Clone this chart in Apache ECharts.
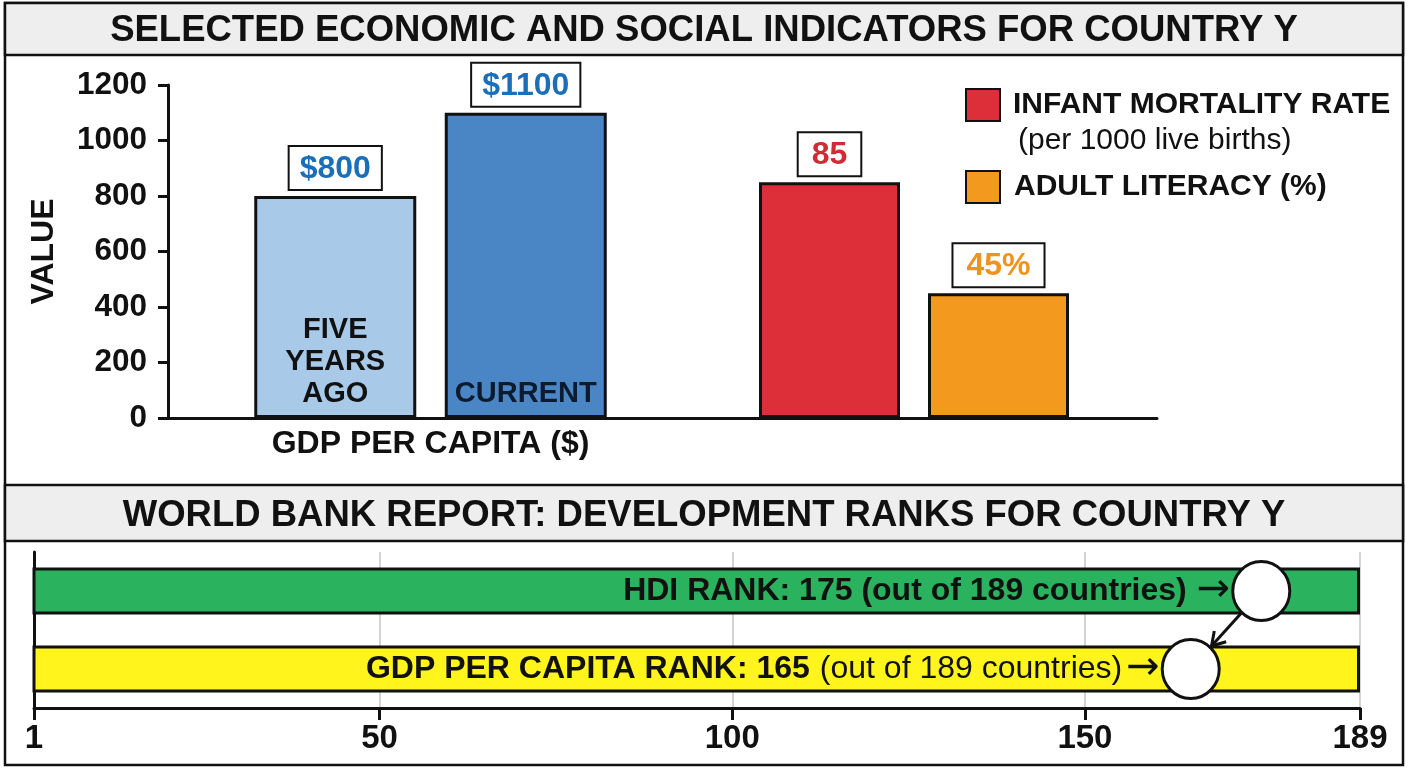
<!DOCTYPE html>
<html>
<head>
<meta charset="utf-8">
<title>Country Y indicators</title>
<script src="https://cdn.jsdelivr.net/npm/echarts@6.0.0/dist/echarts.min.js"></script>
<style>
  html, body { margin: 0; padding: 0; background: #fff; }
  #chart { width: 1408px; height: 768px; }
</style>
</head>
<body>
<div id="chart"></div>
<script>
// top panel
const gdpCategories = ['FIVE\nYEARS\nAGO', 'CURRENT'];
const gdpValues = [800, 1100];
const indicatorNames = ['INFANT MORTALITY RATE', 'ADULT LITERACY (%)'];
const indicatorValues = [85, 45];
const indicatorScale = 10; // drawn x10 so they share the value axis with GDP
const valueRange = [0, 1200];
const valueStep = 200;

// bottom panel
const rankRows = ['HDI', 'GDP PER CAPITA'];
const rankValues = [175, 165];
const rankTotal = 189;
const rankTicks = [1, 50, 100, 150, 189];

const FONT = "'Liberation Sans', Arial, sans-serif";
const ARROW_FONT = "'DejaVu Sans', sans-serif";
const INK = '#111';

const chart = echarts.init(document.getElementById('chart'));

function boldText(size, color) {
    return { fontFamily: FONT, fontSize: size, fontWeight: 'bold', color: color || INK };
}

function rankLabel(i) {
    const head = rankRows[i] + ' RANK: ' + rankValues[i];
    const tail = '(out of ' + rankTotal + ' countries)';
    if (i === 0) return '{b|' + head + ' ' + tail + '}{a|→}';
    return '{b|' + head + '}{r|' + tail + '}{a2|→}';
}

const boxLabel = {
    show: true,
    position: 'top',
    distance: 7,
    fontFamily: FONT,
    fontSize: 32,
    fontWeight: 'bold',
    backgroundColor: '#fff',
    borderColor: INK,
    borderWidth: 2,
    padding: [6, 10, 4, 10]
};

const indicatorColors = ['#dc2f3a', '#f39a1e'];
const indicatorLabelColors = ['#d12b36', '#f0921b'];

const option = {
    animation: false,
    backgroundColor: '#fff',
    title: [
        {
            text: 'SELECTED ECONOMIC AND SOCIAL INDICATORS FOR COUNTRY Y',
            left: 'center', top: 12, padding: 0,
            textStyle: boldText(36.5)
        },
        {
            text: 'WORLD BANK REPORT: DEVELOPMENT RANKS FOR COUNTRY Y',
            left: 'center', top: 497, padding: 0,
            textStyle: boldText(36.5)
        }
    ],
    legend: [
        {
            data: [indicatorNames[0]],
            left: 965, top: 88, padding: 0,
            icon: 'rect', itemWidth: 34, itemHeight: 32,
            selectedMode: false,
            formatter: function (name) {
                return '{b|' + name + '}\n{s|(per 1000 live births)}';
            },
            textStyle: {
                padding: [36, 0, 0, 8],
                rich: {
                    b: { fontFamily: FONT, fontSize: 30, fontWeight: 'bold', lineHeight: 36, color: INK },
                    s: { fontFamily: FONT, fontSize: 30, lineHeight: 36, color: INK, padding: [0, 0, 0, 5] }
                }
            }
        },
        {
            data: [indicatorNames[1]],
            left: 965, top: 170, padding: 0,
            icon: 'rect', itemWidth: 34, itemHeight: 32,
            selectedMode: false,
            textStyle: Object.assign(boldText(30), { padding: [0, 0, 0, 9] })
        }
    ],
    grid: [
        { left: 168, right: 251, top: 85, bottom: 350 },      // axis frame
        { left: 240, right: 787, top: 85, bottom: 350 },      // gdp bars
        { left: 745, right: 325, top: 85, bottom: 350 },      // indicator bars
        { left: 34, right: 48, top: 552, bottom: 60 }         // ranks
    ],
    xAxis: [
        {
            gridIndex: 0, type: 'value', min: 0, max: 1,
            axisLine: { show: true, onZero: false, lineStyle: { color: INK, width: 3 } },
            axisTick: { show: false }, axisLabel: { show: false }, splitLine: { show: false }
        },
        {
            gridIndex: 1, type: 'category', z: 10,
            data: gdpCategories.map(function (c, i) {
                return { value: c, textStyle: { color: i === 0 ? INK : '#0d1b2e' } };
            }),
            axisLine: { show: false }, axisTick: { show: false },
            axisLabel: Object.assign(boldText(29), { inside: true, interval: 0, margin: 8, lineHeight: 32 }),
            name: 'GDP PER CAPITA ($)', nameLocation: 'middle', nameGap: 10,
            nameTextStyle: Object.assign(boldText(32), { verticalAlign: 'top' })
        },
        {
            gridIndex: 2, type: 'category', data: indicatorNames, show: false
        },
        {
            gridIndex: 3, type: 'value', min: rankTicks[0], max: rankTotal,
            axisLine: { show: true, onZero: false, lineStyle: { color: INK, width: 3 } },
            axisTick: { show: true, customValues: rankTicks, length: 12, lineStyle: { color: INK, width: 3 } },
            axisLabel: Object.assign(boldText(33), { customValues: rankTicks, margin: 14 }),
            splitLine: { show: true, lineStyle: { color: '#c4c4c4', width: 1.5 } }
        }
    ],
    yAxis: [
        {
            gridIndex: 0, type: 'value', min: valueRange[0], max: valueRange[1], interval: valueStep,
            name: 'VALUE', nameLocation: 'middle', nameRotate: 90, nameGap: 108,
            nameTextStyle: boldText(32),
            axisLine: { show: true, lineStyle: { color: INK, width: 3 } },
            axisTick: { show: true, length: 10, lineStyle: { color: INK, width: 3 } },
            axisLabel: Object.assign(boldText(31.5), {
                margin: 21,
                formatter: function (v) { return String(v); }
            }),
            splitLine: { show: false }
        },
        { gridIndex: 1, type: 'value', min: valueRange[0], max: valueRange[1], show: false, splitLine: { show: false } },
        { gridIndex: 2, type: 'value', min: valueRange[0], max: valueRange[1], show: false, splitLine: { show: false } },
        {
            gridIndex: 3, type: 'category', data: rankRows, inverse: true,
            axisLine: { show: true, lineStyle: { color: INK, width: 3 } },
            axisTick: { show: false }, axisLabel: { show: false }
        }
    ],
    series: [
        {
            name: 'GDP PER CAPITA ($)', type: 'bar',
            xAxisIndex: 1, yAxisIndex: 1,
            barWidth: 162,
            data: gdpValues.map(function (v, i) {
                return { value: v, itemStyle: { color: i === 0 ? '#a9c9e9' : '#4a86c6' } };
            }),
            itemStyle: { borderColor: INK, borderWidth: 3 },
            label: Object.assign({}, boxLabel, {
                color: '#1a6fb8',
                formatter: function (p) { return '$' + p.value; }
            })
        }
    ].concat(indicatorNames.map(function (name, i) {
        return {
            name: name, type: 'bar',
            xAxisIndex: 2, yAxisIndex: 2,
            barWidth: 141, barGap: '-100%',
            data: indicatorNames.map(function (n, j) {
                return j === i ? indicatorValues[i] * indicatorScale : '-';
            }),
            itemStyle: { color: indicatorColors[i], borderColor: INK, borderWidth: 3 },
            label: Object.assign({}, boxLabel, {
                color: indicatorLabelColors[i],
                padding: [6, 13, 4, 13],
                formatter: function (p) {
                    const v = p.value / indicatorScale;
                    return i === 1 ? v + '%' : String(v);
                }
            })
        };
    })).concat([
        {
            name: 'range', type: 'bar',
            xAxisIndex: 3, yAxisIndex: 3,
            barWidth: 47, silent: true,
            data: rankRows.map(function (r, i) {
                return { value: rankTotal, itemStyle: { color: i === 0 ? '#2bb25f' : '#fff41c' } };
            }),
            itemStyle: { borderColor: INK, borderWidth: 3 }
        },
        {
            id: 'ranks', name: 'rank', type: 'scatter',
            xAxisIndex: 3, yAxisIndex: 3, z: 5,
            symbol: 'circle', symbolSize: [57, 59],
            data: rankValues.map(function (v, i) {
                return { value: [v, i], label: { formatter: rankLabel(i) } };
            }),
            itemStyle: { color: '#fff', borderColor: INK, borderWidth: 3, opacity: 1 },
            label: {
                show: true, position: 'left', distance: 1,
                rich: {
                    b: boldText(32),
                    r: { fontFamily: FONT, fontSize: 32, color: INK, padding: [0, 0, 0, 10] },
                    a: { fontFamily: ARROW_FONT, fontSize: 40, color: INK, padding: [0, 0, 0, 10] },
                    a2: { fontFamily: ARROW_FONT, fontSize: 40, color: INK, padding: [0, 0, 0, 4] }
                }
            }
        }
    ]),
    graphic: {
        elements: [
            { id: 'frame', type: 'rect', silent: true, shape: { x: 5, y: 3, width: 1398, height: 762 },
              style: { fill: 'none', stroke: INK, lineWidth: 2.5 } },
            { id: 'head1', type: 'rect', silent: true, shape: { x: 5, y: 3, width: 1398, height: 52 },
              style: { fill: '#eeeeee', stroke: INK, lineWidth: 2.5 } },
            { id: 'head2', type: 'rect', silent: true, shape: { x: 5, y: 485, width: 1398, height: 56 },
              style: { fill: '#eeeeee', stroke: INK, lineWidth: 2.5 } }
        ]
    }
};

chart.setOption(option);

// arrow from the HDI marker down to the GDP marker
const a = chart.convertToPixel({ seriesId: 'ranks' }, [rankValues[0], 0]);
const b = chart.convertToPixel({ seriesId: 'ranks' }, [rankValues[1], 1]);
const dx = b[0] - a[0], dy = b[1] - a[1];
const len = Math.sqrt(dx * dx + dy * dy);
const ux = dx / len, uy = dy / len;
const r = 30;
const s = [a[0] + ux * r, a[1] + uy * r];
const e = [b[0] - ux * (r + 1), b[1] - uy * (r + 1)];
const hx = e[0] - ux * 13, hy = e[1] - uy * 13;
chart.setOption({
    graphic: {
        elements: [
            { id: 'link', type: 'line', silent: true, z: 10,
              shape: { x1: s[0], y1: s[1], x2: e[0], y2: e[1] },
              style: { stroke: INK, lineWidth: 3 } },
            { id: 'linkHead', type: 'polyline', silent: true, z: 10,
              shape: { points: [[hx - uy * 8, hy + ux * 8], e, [hx + uy * 8, hy - ux * 8]] },
              style: { stroke: INK, lineWidth: 3, fill: 'none' } }
        ]
    }
});
</script>
</body>
</html>
